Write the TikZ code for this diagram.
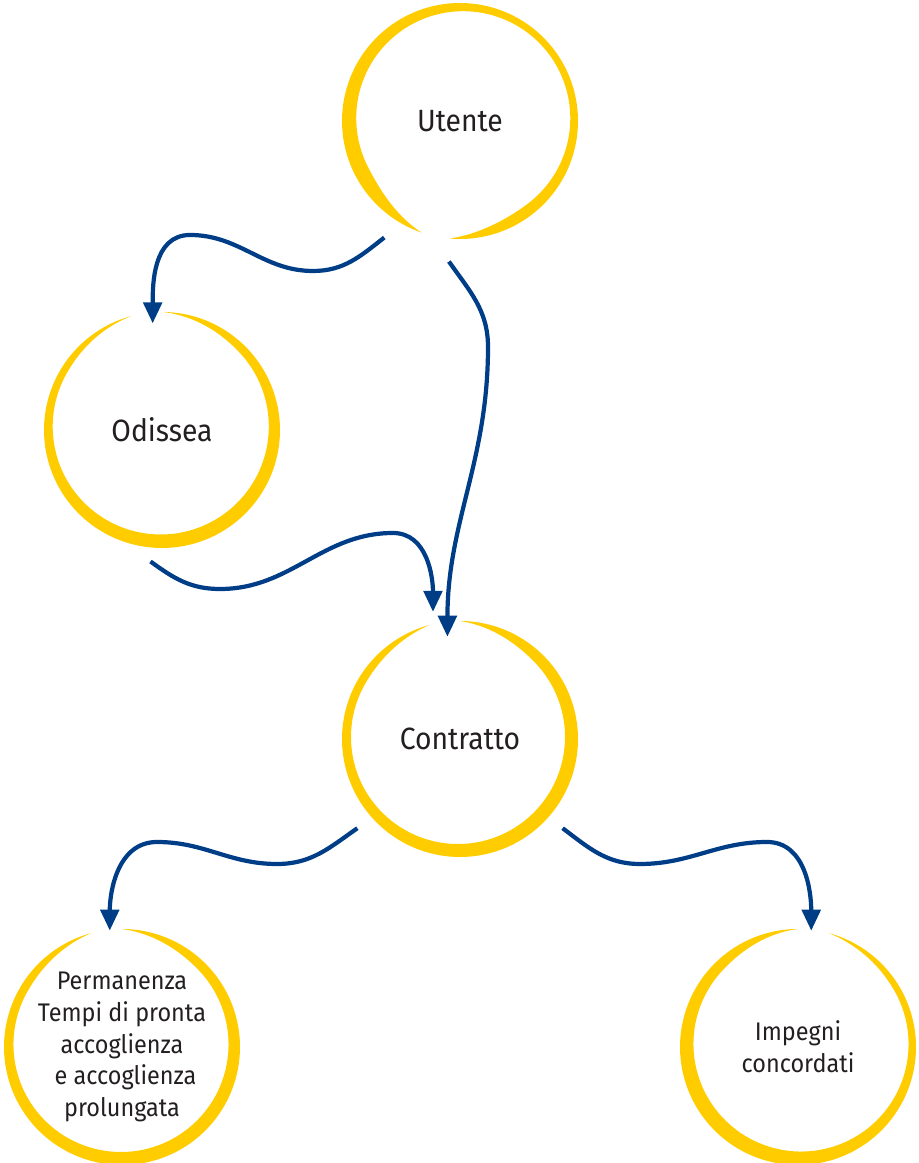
\documentclass[tikz,border=0pt]{standalone}
\usepackage{fontspec}
\setmainfont{Fira Sans}[FakeStretch=0.92]
\usetikzlibrary{arrows.meta,calc}

\definecolor{ringyellow}{RGB}{255,204,0}
\definecolor{flowblue}{RGB}{0,61,135}
\definecolor{textgrey}{RGB}{35,31,32}

\tikzset{
  ring/.style={fill=ringyellow},
  flow/.style={draw=flowblue, line width=2.4pt, -{Triangle[length=12pt,width=10.5pt]}},
  lbl/.style={text=textgrey, font=\fontsize{17.5}{21}\selectfont},
  smalllbl/.style={text=textgrey, align=center, font=\fontsize{14.5}{18}\selectfont}
}

% brush stroke ring: centre, from, to, mean width, cos and sin part
\newcommand\brushring[6]{%
  \begin{scope}[shift={(#1)}]
    \fill[ring] plot[domain=#2:#3, samples=200] (\x:118)
      -- plot[domain=#3:#2, samples=200]
         (\x:{118-(#4+#5*cos(\x)+#6*sin(\x))*sin(min(90,2*(\x-(#2)),2*((#3)-\x)))})
      -- cycle;
  \end{scope}}

\begin{document}
\begin{tikzpicture}[x=0.02cm, y=0.02cm]

\useasboundingbox (0,0) rectangle (919,1163);

\node[lbl] (utente) at (460,1042) {Utente};
\node[lbl] (odissea) at (162,733) {Odissea};
\node[lbl] (contratto) at (460,424) {Contratto};
\node[smalllbl] (permanenza) at (122,116) {Permanenza\\Tempi di pronta\\accoglienza\\\hspace{4pt}e accoglienza\\prolungata};
\node[smalllbl] (impegni) at (798,116) {Impegni\\concordati};

\brushring{utente}{-95}{251}{11}{-3.25}{-2.75}
\brushring{odissea}{105}{449.5}{10}{1.25}{-3.5}
\brushring{contratto}{105}{450}{11}{2}{-2}
\brushring{permanenza}{105}{450}{10.5}{1}{-2.5}
\brushring{impegni}{90}{435}{10.5}{-3}{-3}

\draw[flow] ($(utente)+(237:139)$) to[out=218,in=0] (313,892)
  to[out=180,in=0] (190,928) to[out=180,in=90] ($(odissea)+(95:107)$);
\draw[flow] ($(utente)+(265.5:141)$) to[out=-55,in=90] (488,816)
  to[out=-90,in=90] ($(contratto)+(97:103)$);
\draw[flow] ($(odissea)+(265:132)$) to[out=-36,in=180] (220,574)
  to[out=0,in=180] (393,630) to[out=0,in=90] ($(contratto)+(102:130)$);
\draw[flow] ($(contratto)+(221:136)$) to[out=215,in=0] (277,299)
  to[out=180,in=0] (157,321) to[out=180,in=90] ($(permanenza)+(96:117)$);
\draw[flow] ($(contratto)+(-41:136)$) to[out=-37,in=180] (640,299)
  to[out=0,in=180] (767,321) to[out=0,in=90] ($(impegni)+(83.5:117)$);

\end{tikzpicture}
\end{document}
